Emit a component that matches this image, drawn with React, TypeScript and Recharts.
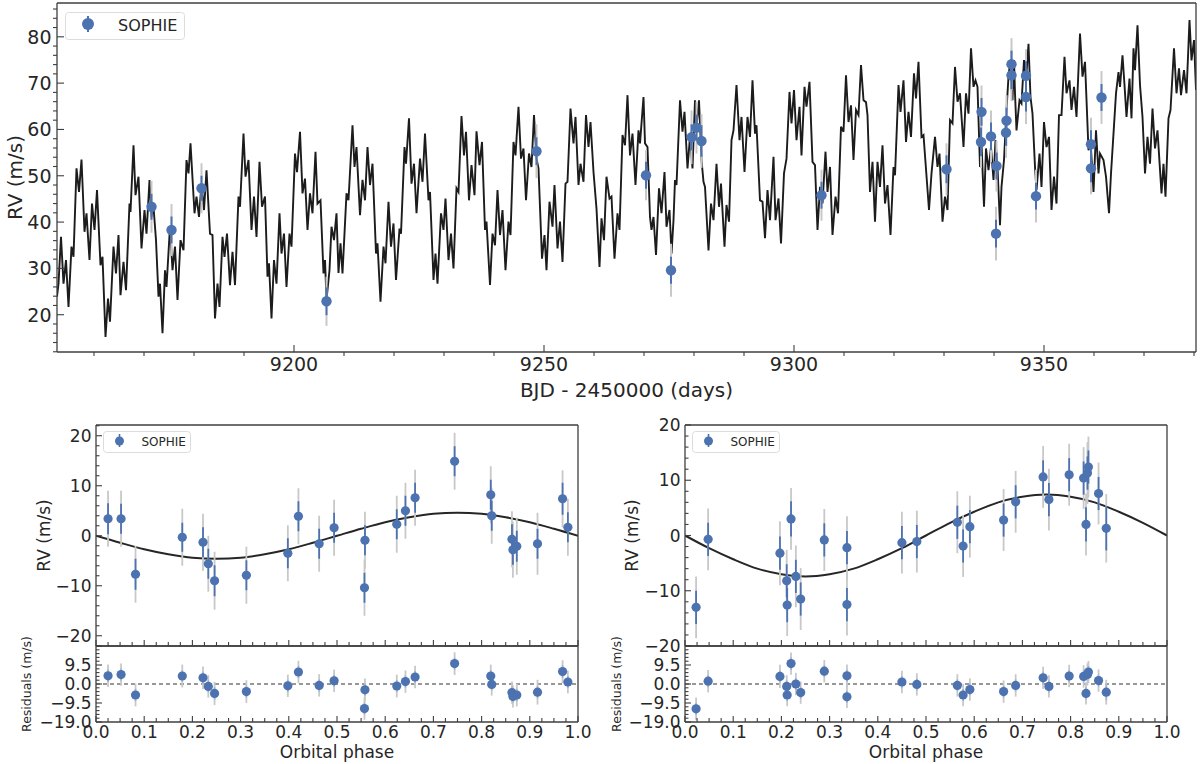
import React from "react";
import { ComposedChart, Line, Scatter, XAxis, YAxis, ErrorBar, ReferenceLine } from "recharts";

const FONT = "'DejaVu Sans', Verdana, sans-serif";
const INK = "#262626";
const SPINE = "#3f3f3f";
const BLUE = "#4c72b0";
const GREY = "#c8c8c8";

// ---- top panel: RV model (turning points) ----
const modelDay = [
  9152.6, 9152.9, 9153.4, 9153.9, 9154.4, 9154.9, 9155.5, 9155.9, 9156.5, 9157.0,
  9157.5, 9158.1, 9158.5, 9159.1, 9159.6, 9160.1, 9160.6, 9161.3, 9161.7, 9162.3,
  9162.8, 9163.2, 9163.9, 9164.4, 9164.9, 9165.3, 9165.9, 9166.4, 9167.1, 9167.3,
  9167.9, 9168.3, 9168.9, 9169.5, 9170.1, 9170.5, 9171.1, 9171.5, 9171.9, 9172.4,
  9172.9, 9173.2, 9173.7, 9174.2, 9174.5, 9175.2, 9175.7, 9176.2, 9176.7, 9177.3,
  9177.9, 9178.5, 9178.9, 9179.3, 9180.1, 9180.5, 9181.0, 9181.5, 9182.0, 9182.5,
  9183.2, 9183.7, 9184.2, 9184.7, 9185.1, 9185.7, 9186.1, 9186.6, 9187.2, 9187.7,
  9188.2, 9188.9, 9189.2, 9189.9, 9190.3, 9190.9, 9191.5, 9192.0, 9192.5, 9193.1,
  9193.6, 9194.2, 9194.7, 9195.0, 9195.5, 9196.0, 9196.5, 9197.1, 9197.5, 9198.0,
  9198.5, 9199.1, 9199.5, 9200.2, 9200.6, 9201.2, 9201.7, 9202.2, 9202.7, 9203.2,
  9203.7, 9204.3, 9204.7, 9205.3, 9205.9, 9206.2, 9206.5, 9207.1, 9207.5, 9208.0,
  9208.5, 9208.9, 9209.3, 9209.7,
  9210.5, 9210.9, 9211.7, 9212.1, 9212.5, 9213.2, 9213.7, 9214.2, 9214.7, 9215.2,
  9215.7, 9216.4, 9216.7, 9217.3, 9217.9, 9218.3, 9218.9, 9219.4, 9219.9, 9220.4,
  9221.1, 9221.4, 9222.1, 9222.4, 9223.0, 9223.5, 9224.0, 9224.5, 9225.2, 9225.7,
  9226.2, 9226.9, 9227.2, 9227.9, 9228.3, 9228.7, 9229.4, 9229.9, 9230.3, 9230.9,
  9231.4, 9231.9, 9232.5, 9232.9, 9233.5, 9234.0, 9234.4, 9235.0, 9235.5, 9236.1,
  9236.5, 9237.1, 9237.6, 9238.2, 9238.5, 9239.2, 9239.7, 9240.2, 9240.7, 9241.2,
  9241.7, 9242.3, 9242.9, 9243.3, 9243.9, 9244.3, 9244.9, 9245.4, 9245.9, 9246.4,
  9247.0, 9247.5, 9248.0, 9248.5, 9248.9, 9249.6, 9250.1, 9250.5, 9251.1, 9251.7,
  9252.1, 9252.7, 9253.2, 9253.7, 9254.3, 9254.7, 9255.3, 9255.9, 9256.3, 9256.9,
  9257.3, 9257.9, 9258.4, 9258.9, 9259.3, 9259.9, 9260.5, 9261.1, 9261.5, 9262.0,
  9262.5, 9263.1, 9263.5, 9264.1, 9264.7, 9265.1, 9265.7, 9266.2, 9266.7, 9267.2,
  9267.7, 9268.3, 9268.9,
  9269.2, 9269.9, 9270.2, 9270.7, 9271.2, 9271.5, 9271.9, 9272.4, 9273.0, 9273.5,
  9274.1, 9274.5, 9275.1, 9275.5, 9275.9, 9276.2, 9276.5, 9277.2, 9277.7, 9278.1,
  9278.7, 9279.2, 9279.7, 9280.2, 9280.5, 9281.0, 9281.5, 9281.9, 9282.2, 9282.9,
  9283.4, 9283.9, 9284.5, 9285.0, 9285.4, 9286.1, 9286.5, 9287.0, 9287.5, 9287.9,
  9288.5, 9289.1, 9289.5, 9290.1, 9290.7, 9291.2, 9291.7, 9292.2, 9292.5, 9293.2,
  9293.7, 9294.2, 9294.7, 9295.2, 9295.9, 9296.3, 9296.9, 9297.4, 9298.0, 9298.5,
  9299.1, 9299.5, 9300.0, 9300.5, 9301.1, 9301.5, 9302.1, 9302.5, 9303.1, 9303.7,
  9304.2, 9304.7, 9305.2, 9305.7, 9306.3, 9306.7, 9307.2, 9307.7, 9308.3, 9308.8,
  9309.4, 9309.9, 9310.4, 9310.9, 9311.4, 9311.9, 9312.4, 9312.9, 9313.4, 9313.9,
  9314.4, 9314.7, 9315.2, 9315.7, 9316.2, 9316.7, 9317.2, 9317.7, 9318.2, 9318.7,
  9319.3, 9319.9, 9320.2, 9320.9, 9321.3, 9321.9, 9322.4, 9322.9, 9323.4, 9324.0,
  9324.4, 9324.9, 9325.5, 9325.9, 9327.0,
  9327.5, 9328.2, 9328.7, 9329.1, 9329.7, 9330.2, 9330.7, 9331.2, 9331.7, 9332.2,
  9332.7, 9333.2, 9333.9, 9334.4, 9334.9, 9335.4, 9335.9, 9336.3, 9336.7, 9337.2,
  9337.5, 9338.0, 9338.4, 9338.9, 9339.4, 9339.9, 9340.3, 9340.7, 9341.2, 9341.5,
  9342.0, 9342.5, 9342.9, 9343.2, 9343.7, 9344.0, 9344.2, 9344.5, 9345.1, 9345.5,
  9346.0, 9346.4, 9346.9, 9347.3, 9347.7, 9348.2, 9348.5, 9349.1, 9349.5, 9350.0,
  9350.5, 9351.0, 9351.5, 9352.0, 9352.5, 9353.0, 9353.5, 9354.1, 9354.5, 9355.1,
  9355.5, 9356.0, 9356.5, 9357.2, 9357.7, 9358.2, 9358.9, 9359.3, 9359.9, 9360.4,
  9360.9, 9361.2, 9361.9, 9362.4, 9363.0, 9363.4, 9363.9, 9364.4, 9364.9, 9365.2,
  9365.7, 9366.1, 9366.5, 9367.1, 9367.5, 9367.9, 9368.2, 9368.7, 9369.2, 9369.7,
  9370.2, 9370.7, 9371.2, 9371.7, 9372.2, 9372.7, 9373.5, 9373.9, 9374.3, 9374.9,
  9375.3, 9376.0, 9376.5, 9377.0, 9377.4, 9378.0, 9378.5, 9379.1, 9379.5, 9380.0,
  9380.4,
];
const modelRv = [
  23.9, 26.7, 36.8, 26.7, 31.8, 21.7, 34.7, 32.5, 51.6, 46.5,
  53.5, 37.9, 41.9, 31.8, 44.0, 38.3, 46.9, 30.7, 32.5, 15.2,
  23.5, 18.5, 34.7, 28.9, 37.2, 24.2, 31.4, 25.3, 44.0, 42.2,
  56.6, 45.8, 49.8, 34.3, 42.6, 37.5, 49.1, 41.1, 43.3, 36.1,
  23.9, 26.7, 16.0, 29.6, 26.0, 39.0, 29.6, 34.7, 23.2, 36.1,
  33.9, 53.4, 50.5, 57.0, 41.9, 45.5, 41.1, 48.3, 42.6, 51.2,
  37.5, 37.2, 19.2, 26.7, 21.7, 36.8, 32.5, 37.5, 26.4, 33.6,
  26.4, 45.5, 43.3, 59.1, 49.8, 53.4, 38.3, 45.5, 36.8, 53.0,
  43.3, 45.5, 28.2, 31.1, 19.2, 31.8, 26.7, 41.9, 33.2, 37.5,
  26.0, 37.5, 34.7, 54.8, 50.8, 59.5, 46.2, 49.4, 38.3, 46.2,
  41.9, 55.2, 44.0, 44.7, 28.9, 31.8, 23.2, 29.6, 39.0, 36.1,
  41.9, 29.0, 35.4, 28.9,
  46.2, 44.7, 60.9, 51.9, 56.2, 41.5, 49.1, 44.7, 56.2, 48.0,
  52.6, 33.2, 35.4, 22.8, 34.7, 31.1, 44.4, 34.7, 39.7, 27.5,
  38.6, 37.5, 56.2, 52.6, 62.4, 48.3, 52.6, 41.9, 53.7, 48.7,
  59.1, 44.7, 46.5, 27.5, 33.2, 26.7, 41.9, 38.3, 45.1, 31.8,
  37.5, 30.0, 47.3, 46.5, 62.9, 54.4, 59.5, 44.7, 52.3, 45.8,
  59.6, 52.3, 57.3, 38.3, 40.1, 26.4, 37.5, 35.0, 46.9, 37.2,
  42.6, 29.6, 40.1, 37.2, 57.3, 54.4, 64.9, 53.7, 55.9, 44.7,
  54.8, 51.9, 63.1, 53.7, 51.6, 32.1, 37.2, 29.6, 44.4, 39.0,
  48.0, 34.3, 40.1, 31.4, 48.3, 48.7, 64.5, 57.0, 62.7, 48.0,
  52.6, 48.7, 63.1, 56.2, 61.6, 50.8, 42.9, 30.3, 40.8, 36.1,
  49.8, 45.1, 45.5, 32.1, 41.9, 38.3, 58.8, 56.6, 67.4, 54.4,
  59.1, 48.0, 59.8,
  57.0, 67.0, 57.0, 56.2, 41.1, 38.3, 41.1, 32.9, 47.3, 41.9,
  50.8, 39.0, 42.6, 33.2, 40.4, 49.1, 48.0, 66.3, 59.5, 63.8,
  51.6, 58.4, 51.6, 66.3, 60.6, 66.3, 53.4, 48.7, 47.6, 33.9,
  44.0, 40.4, 52.6, 43.3, 48.3, 34.7, 43.7, 40.1, 57.7, 59.8,
  69.6, 57.7, 62.7, 50.8, 62.7, 58.4, 70.6, 59.1, 60.9, 44.7,
  44.4, 36.5, 46.9, 40.4, 54.1, 40.4, 45.1, 35.4, 50.5, 53.7,
  68.1, 61.3, 68.5, 57.7, 64.9, 54.4, 69.2, 64.9, 70.3, 53.0,
  52.3, 38.3, 47.6, 44.0, 55.2, 46.5, 51.9, 37.2, 45.5, 41.9,
  60.6, 59.5, 71.7, 61.6, 65.2, 53.4, 64.2, 63.1, 73.9, 66.3,
  65.9, 63.1, 46.5, 53.0, 40.1, 53.0, 47.6, 56.6, 44.0, 48.0,
  37.2, 51.9, 50.1, 69.6, 63.8, 70.6, 57.3, 63.8, 58.4, 72.1,
  66.7, 74.6, 58.4, 58.8, 42.6,
  50.5, 58.4, 51.9, 54.8, 40.1, 45.5, 42.6, 62.0, 61.3, 73.5,
  66.0, 67.8, 56.2, 67.8, 63.4, 77.5, 69.2, 70.6, 69.2, 51.9,
  57.0, 43.3, 55.9, 51.2, 56.2, 49.1, 57.7, 51.9, 39.3, 47.6,
  53.4, 64.2, 71.4, 74.2, 66.3, 75.0, 67.8, 59.8, 66.3, 65.6,
  75.0, 70.6, 78.5, 67.0, 63.4, 51.9, 46.9, 54.8, 47.6, 61.6,
  56.2, 58.4, 42.6, 49.8, 44.0, 63.1, 63.1, 75.7, 67.8, 70.6,
  64.2, 69.2, 62.7, 80.7, 71.4, 74.6, 55.5, 57.7, 46.5, 59.8,
  50.5, 54.8, 53.4, 49.8, 41.9, 50.5, 59.1, 67.8, 72.4, 69.2,
  76.0, 69.6, 62.7, 71.0, 62.4, 77.5, 72.8, 82.5, 69.6, 62.7,
  50.5, 58.4, 52.6, 64.5, 55.9, 59.8, 46.2, 52.6, 45.5, 62.4,
  64.2, 77.5, 67.8, 73.2, 67.4, 72.8, 67.8, 83.6, 74.9, 79.3,
  68.5,
];

// ---- top panel: SOPHIE measurements ----
const obsDay = [9171.5, 9175.5, 9181.5, 9206.5, 9248.5, 9270.4, 9275.4, 9279.5, 9280.5, 9281.5, 9305.5, 9330.5, 9337.4, 9337.5, 9339.4, 9340.4, 9340.5, 9342.4, 9342.5, 9343.5, 9343.5, 9346.4, 9346.4, 9348.4, 9359.4, 9359.4, 9361.5];
const obsRv = [43.3, 38.3, 47.3, 22.9, 55.3, 50.1, 29.6, 58.3, 60.4, 57.5, 45.8, 51.4, 57.3, 63.8, 58.5, 37.5, 52.1, 59.3, 61.9, 74.1, 71.7, 71.6, 67.0, 45.6, 56.8, 51.6, 66.9];
const obsErrIn = [2.8, 2.9, 2.7, 3.0, 3.0, 2.9, 2.9, 2.8, 2.8, 3.4, 2.9, 3.0, 3.1, 3.0, 3.0, 3.0, 2.9, 2.8, 2.8, 2.9, 3.0, 3.1, 3.1, 2.9, 3.0, 3.0, 2.9];
const obsErrTot = [5.6, 5.6, 5.4, 5.3, 5.8, 5.4, 5.7, 5.8, 5.6, 5.8, 5.5, 5.6, 5.6, 5.7, 5.6, 5.8, 5.5, 5.4, 5.5, 5.6, 5.6, 5.7, 5.8, 5.7, 5.7, 5.6, 5.7];

// ---- phase-folded panels ----
const phaseGrid = [0, 0.05, 0.1, 0.15, 0.2, 0.25, 0.3, 0.35, 0.4, 0.45, 0.5, 0.55, 0.6, 0.65, 0.7, 0.75, 0.8, 0.85, 0.9, 0.95, 1.0];
const curveB = [0, -1.4, -2.7, -3.7, -4.4, -4.6, -4.4, -3.7, -2.7, -1.4, 0, 1.4, 2.7, 3.7, 4.4, 4.6, 4.4, 3.7, 2.7, 1.4, 0];
const curveC = [0, -2.3, -4.3, -6.0, -7.0, -7.4, -7.0, -6.0, -4.3, -2.3, 0, 2.3, 4.3, 6.0, 7.0, 7.4, 7.0, 6.0, 4.3, 2.3, 0];

const phaseB = [0.025, 0.052, 0.082, 0.179, 0.222, 0.233, 0.246, 0.312, 0.398, 0.42, 0.463, 0.494, 0.558, 0.557, 0.624, 0.642, 0.662, 0.744, 0.819, 0.821, 0.863, 0.865, 0.873, 0.916, 0.968, 0.979];
const rvB = [3.4, 3.4, -7.7, -0.3, -1.3, -5.6, -9.0, -7.9, -3.5, 3.9, -1.6, 1.6, -0.9, -10.4, 2.3, 5.0, 7.6, 14.9, 8.2, 4.0, -0.7, -2.8, -2.1, -1.6, 7.4, 1.7];
const resB = [4.1, 4.7, -5.5, 4.0, 3.1, -1.2, -4.7, -3.8, -0.9, 6.0, -0.7, 1.6, -2.9, -12.3, -1.0, 1.2, 3.5, 10.2, 4.0, -0.2, -4.3, -6.2, -5.5, -4.1, 6.2, 1.0];
const errInB = [3.1, 3.0, 3.1, 2.9, 3.0, 3.0, 3.1, 3.0, 3.0, 3.0, 3.0, 3.0, 3.0, 3.0, 3.0, 3.0, 3.0, 3.0, 3.0, 3.0, 3.0, 3.0, 3.1, 3.0, 3.2, 3.0];
const errTotB = [5.6, 5.6, 5.7, 5.7, 5.7, 5.6, 5.8, 5.7, 5.6, 5.6, 5.6, 5.6, 5.7, 5.6, 5.7, 5.6, 5.6, 5.7, 5.7, 5.6, 5.6, 5.6, 5.7, 6.2, 5.7, 5.7];

const phaseC = [0.023, 0.048, 0.197, 0.211, 0.212, 0.22, 0.23, 0.24, 0.289, 0.336, 0.336, 0.45, 0.481, 0.565, 0.577, 0.591, 0.661, 0.686, 0.743, 0.755, 0.797, 0.827, 0.832, 0.835, 0.837, 0.858, 0.874];
const rvC = [-13.0, -0.7, -3.2, -8.2, -12.6, 3.0, -7.4, -11.5, -0.8, -2.2, -12.5, -1.3, -1.1, 2.4, -1.9, 1.6, 2.8, 6.1, 10.6, 6.5, 11.0, 10.4, 2.0, 11.3, 12.4, 7.6, 1.3];
const resC = [-12.4, 1.4, 3.8, -1.2, -5.5, 10.2, 0.0, -4.3, 6.4, 4.1, -6.4, 1.0, -0.2, -0.7, -5.5, -2.8, -3.8, -0.7, 3.1, -1.2, 4.0, 3.8, -4.7, 4.8, 6.0, 1.7, -4.1];
const errInC = [3.0, 3.0, 3.0, 3.0, 3.1, 3.2, 3.0, 3.0, 3.0, 3.0, 3.0, 3.0, 3.0, 3.0, 3.0, 3.0, 3.0, 3.0, 3.0, 3.0, 3.0, 3.0, 3.1, 3.0, 3.0, 3.0, 4.0];
const errTotC = [5.6, 5.6, 5.8, 5.6, 5.6, 5.6, 5.6, 5.6, 5.6, 5.7, 5.6, 5.6, 5.6, 5.6, 5.6, 5.6, 5.6, 5.6, 5.6, 5.6, 5.6, 5.6, 5.6, 5.6, 5.5, 5.6, 6.2];

// ---- tick labels ----
const dayMajor = [9200, 9250, 9300, 9350];
const rvTopMajor = [20, 30, 40, 50, 60, 70, 80];
const phaseMajor = [0, 0.1, 0.2, 0.3, 0.4, 0.5, 0.6, 0.7, 0.8, 0.9, 1.0];
const rvMajor = [-20, -10, 0, 10, 20];
const resMajor = [-19, -9.5, 0, 9.5, 19];
const resLabels = [-19, -9.5, 0, 9.5];

const range = (a: number, b: number, s: number) => {
  const out: number[] = [];
  for (let i = 0; a + i * s <= b + 1e-9; i++) out.push(+(a + i * s).toFixed(4));
  return out;
};
const minus = (s: string) => s.replace("-", "\u2212");
const near = (list: number[], v: number) => list.some((m) => Math.abs(m - v) < 1e-6);

type TickSpec = {
  majors: number[];
  labels: number[];
  fmt: (v: number) => string;
  fs: number;
  major: number;
  minor: number;
  minorOut?: boolean;
  gap: number;
};

const bottomTick = (s: TickSpec) => (p: any) => {
  const v = p.payload.value;
  const big = near(s.majors, v);
  const d = big ? -s.major : s.minorOut ? s.minor : -s.minor;
  return (
    <g>
      <line x1={p.x} x2={p.x} y1={p.y} y2={p.y + d} stroke={SPINE} strokeWidth={1.1} />
      {near(s.labels, v) && (
        <text x={p.x} y={p.y + s.gap} textAnchor="middle" fontSize={s.fs} fontFamily={FONT} fill={INK}>
          {s.fmt(v)}
        </text>
      )}
    </g>
  );
};

const leftTick = (s: TickSpec) => (p: any) => {
  const v = p.payload.value;
  const big = near(s.majors, v);
  const d = big ? s.major : s.minorOut ? -s.minor : s.minor;
  return (
    <g>
      <line x1={p.x} x2={p.x + d} y1={p.y} y2={p.y} stroke={SPINE} strokeWidth={1.1} />
      {near(s.labels, v) && (
        <text x={p.x - s.gap} y={p.y} dy="0.36em" textAnchor="end" fontSize={s.fs} fontFamily={FONT} fill={INK}>
          {s.fmt(v)}
        </text>
      )}
    </g>
  );
};

const hangTick = (majors: number[]) => (p: any) => {
  const big = near(majors, p.payload.value);
  return <line x1={p.x} x2={p.x} y1={p.y} y2={p.y + (big ? 6 : 4)} stroke={SPINE} strokeWidth={1.1} />;
};

const dot = (r: number) => (p: any) => <circle cx={p.cx} cy={p.cy} r={r} fill={BLUE} />;

const axisLine = { stroke: SPINE, strokeWidth: 1.3 };

const mkObs = (xs: number[], ys: number[], ein: number[], etot: number[]) =>
  xs.map((x, i) => ({ x, y: ys[i], eb: ein[i], eg: etot[i] }));

function LegendBox({ left, top, big }: { left: number; top: number; big?: boolean }) {
  const w = big ? 120 : 88;
  const h = big ? 28 : 22;
  const mx = big ? 23 : 16.5;
  const my = big ? 12 : 10;
  return (
    <svg style={{ position: "absolute", left, top }} width={w} height={h}>
      <rect x={0.5} y={0.5} width={w - 1} height={h - 1} rx={3} fill="#fff" fillOpacity={0.85} stroke="#dcdcdc" />
      <line x1={mx} x2={mx} y1={big ? 4 : 3} y2={big ? 20 : 16} stroke={BLUE} strokeWidth={big ? 2 : 1.6} />
      <circle cx={mx} cy={my} r={big ? 6 : 4.5} fill={BLUE} />
      <text x={big ? 53 : 38.5} y={big ? 18.5 : 14.5} fontSize={big ? 16 : 12} fontFamily={FONT} fill={INK}>
        SOPHIE
      </text>
    </svg>
  );
}

function TopPanel() {
  const model = modelDay.map((x, i) => ({ x, y: modelRv[i] }));
  const obs = mkObs(obsDay, obsRv, obsErrIn, obsErrTot);
  const xDom = [9152.6, 9380.4];
  const yDom = [11.95, 87.3];
  return (
    <div style={{ position: "absolute", left: 0, top: 0 }}>
      <ComposedChart width={1200} height={410} margin={{ top: 2, right: 3, left: 0, bottom: 0 }}>
        <XAxis
          xAxisId="b" type="number" dataKey="x" domain={xDom} allowDataOverflow height={58}
          ticks={range(9160, 9380, 10)} interval={0} tickLine={false} tickSize={0} tickMargin={0}
          axisLine={axisLine}
          tick={bottomTick({ majors: dayMajor, labels: dayMajor, fmt: (v) => String(v), fs: 19, major: 7, minor: 4, minorOut: true, gap: 19 })}
          label={{ value: "BJD - 2450000 (days)", position: "insideBottom", offset: 13, fontSize: 20, fontFamily: FONT, fill: INK }}
        />
        <XAxis xAxisId="t" orientation="top" type="number" domain={xDom} allowDataOverflow height={1} tick={false} tickLine={false} axisLine={axisLine} />
        <YAxis
          yAxisId="l" type="number" dataKey="y" domain={yDom} allowDataOverflow width={57}
          ticks={range(12, 86, 2)} interval={0} tickLine={false} tickSize={0} tickMargin={0}
          axisLine={axisLine}
          tick={leftTick({ majors: rvTopMajor, labels: rvTopMajor, fmt: (v) => String(v), fs: 19, major: 7, minor: 4, minorOut: true, gap: 5.5 })}
          label={{ value: "RV (m/s)", angle: -90, position: "insideLeft", offset: 15, fontSize: 20, fontFamily: FONT, fill: INK, style: { textAnchor: "middle" } }}
        />
        <YAxis yAxisId="r" orientation="right" type="number" domain={[0, 1]} width={1} tick={false} tickLine={false} axisLine={axisLine} />
        <Line xAxisId="b" yAxisId="l" data={model} dataKey="y" type="linear" stroke="#1c1c1c" strokeWidth={1.9} dot={false} isAnimationActive={false} />
        <Scatter xAxisId="b" yAxisId="l" data={obs} dataKey="y" shape={dot(5.2)} isAnimationActive={false}>
          <ErrorBar dataKey="eg" direction="y" width={0} stroke={GREY} strokeWidth={2} isAnimationActive={false} />
          <ErrorBar dataKey="eb" direction="y" width={0} stroke={BLUE} strokeWidth={2} isAnimationActive={false} />
        </Scatter>
      </ComposedChart>
    </div>
  );
}

type PanelProps = {
  left: number;
  ph: number[];
  rv: number[];
  res: number[];
  ein: number[];
  etot: number[];
  curve: number[];
  rvDom: number[];
  rvTicks: number[];
  rvLabelX: number;
  resLabelX: number;
  hang?: boolean;
};

function PhasePanel({ left, ph, rv, res, ein, etot, curve, rvDom, rvTicks, rvLabelX, resLabelX, hang }: PanelProps) {
  const pts = mkObs(ph, rv, ein, etot);
  const rpts = mkObs(ph, res, ein, etot);
  const line = phaseGrid.map((x, i) => ({ x, y: curve[i] }));
  const pDom = [0, 1];
  const pTicks = range(0, 1, 0.025);
  const phaseSpec = { majors: phaseMajor, labels: phaseMajor, fmt: (v: number) => v.toFixed(1), fs: 17, major: 6, minor: 4, gap: 15.5 };
  return (
    <>
      <div style={{ position: "absolute", left, top: 415 }}>
        <ComposedChart width={602} height={245} margin={{ top: 9, right: 23, left: 0, bottom: 0 }}>
          <XAxis
            xAxisId="b" type="number" dataKey="x" domain={pDom} allowDataOverflow height={14}
            ticks={pTicks} interval={0} tickLine={false} tickSize={0} tickMargin={0} axisLine={axisLine}
            tick={bottomTick({ ...phaseSpec, labels: [] })}
          />
          <XAxis xAxisId="t" orientation="top" type="number" domain={pDom} height={1} tick={false} tickLine={false} axisLine={axisLine} />
          <YAxis
            yAxisId="l" type="number" dataKey="y" domain={rvDom} allowDataOverflow width={96}
            ticks={rvTicks} interval={0} tickLine={false} tickSize={0} tickMargin={0} axisLine={axisLine}
            tick={leftTick({ majors: rvMajor, labels: rvMajor, fmt: (v) => minus(String(v)), fs: 17, major: 6, minor: 3.5, gap: 4.5 })}
            label={{ value: "RV (m/s)", angle: -90, position: "insideLeft", offset: rvLabelX, fontSize: 17, fontFamily: FONT, fill: INK, style: { textAnchor: "middle" } }}
          />
          <YAxis yAxisId="r" orientation="right" type="number" domain={[0, 1]} width={1} tick={false} tickLine={false} axisLine={axisLine} />
          <Line xAxisId="b" yAxisId="l" data={line} dataKey="y" type="monotone" stroke="#262626" strokeWidth={2} dot={false} isAnimationActive={false} />
          <Scatter xAxisId="b" yAxisId="l" data={pts} dataKey="y" shape={dot(4.6)} isAnimationActive={false}>
            <ErrorBar dataKey="eg" direction="y" width={0} stroke={GREY} strokeWidth={1.8} isAnimationActive={false} />
            <ErrorBar dataKey="eb" direction="y" width={0} stroke={BLUE} strokeWidth={1.8} isAnimationActive={false} />
          </Scatter>
        </ComposedChart>
      </div>
      <div style={{ position: "absolute", left, top: 630 }}>
        <ComposedChart width={602} height={134} margin={{ top: 15, right: 23, left: 0, bottom: 0 }}>
          <XAxis
            xAxisId="b" type="number" dataKey="x" domain={pDom} allowDataOverflow height={42}
            ticks={pTicks} interval={0} tickLine={false} tickSize={0} tickMargin={0} axisLine={axisLine}
            tick={bottomTick(phaseSpec)}
            label={{ value: "Orbital phase", position: "insideBottom", offset: 6, fontSize: 17, fontFamily: FONT, fill: INK }}
          />
          <XAxis
            xAxisId="t" orientation="top" type="number" domain={pDom} height={1}
            ticks={pTicks} interval={0} tickLine={false} tickSize={0} tickMargin={0} axisLine={axisLine}
            tick={hang ? hangTick(phaseMajor) : false}
          />
          <YAxis
            yAxisId="l" type="number" dataKey="y" domain={[-19, 19]} allowDataOverflow width={96}
            ticks={range(-19, 19, 1.9)} interval={0} tickLine={false} tickSize={0} tickMargin={0} axisLine={axisLine}
            tick={leftTick({ majors: resMajor, labels: resLabels, fmt: (v) => minus(v.toFixed(1)), fs: 17, major: 6, minor: 3.5, gap: 4.5 })}
            label={{ value: "Residuals (m/s)", angle: -90, position: "insideLeft", offset: resLabelX, fontSize: 12.5, fontFamily: FONT, fill: INK, style: { textAnchor: "middle" } }}
          />
          <YAxis yAxisId="r" orientation="right" type="number" domain={[0, 1]} width={1} tick={false} tickLine={false} axisLine={axisLine} />
          <ReferenceLine xAxisId="b" yAxisId="l" y={0} stroke="#333" strokeWidth={1.1} strokeDasharray="4 3" />
          <Scatter xAxisId="b" yAxisId="l" data={rpts} dataKey="y" shape={dot(4.6)} isAnimationActive={false}>
            <ErrorBar dataKey="eg" direction="y" width={0} stroke={GREY} strokeWidth={1.8} isAnimationActive={false} />
            <ErrorBar dataKey="eb" direction="y" width={0} stroke="#9fb3d6" strokeWidth={1.6} isAnimationActive={false} />
          </Scatter>
        </ComposedChart>
      </div>
      <LegendBox left={left + 103} top={431} />
    </>
  );
}

export default function App() {
  return (
    <div style={{ position: "absolute", left: 0, top: 0, width: 1200, height: 764, background: "#fff", fontFamily: FONT, overflow: "hidden" }}>
      <TopPanel />
      <LegendBox left={65} top={12} big />
      <PhasePanel
        left={0} ph={phaseB} rv={rvB} res={resB} ein={errInB} etot={errTotB} curve={curveB}
        rvDom={[-22.05, 22.15]} rvTicks={range(-22, 22, 2)} rvLabelX={44} resLabelX={27} hang
      />
      <PhasePanel
        left={589} ph={phaseC} rv={rvC} res={resC} ein={errInC} etot={errTotC} curve={curveC}
        rvDom={[-20, 20]} rvTicks={range(-20, 20, 2)} rvLabelX={43} resLabelX={28}
      />
    </div>
  );
}
